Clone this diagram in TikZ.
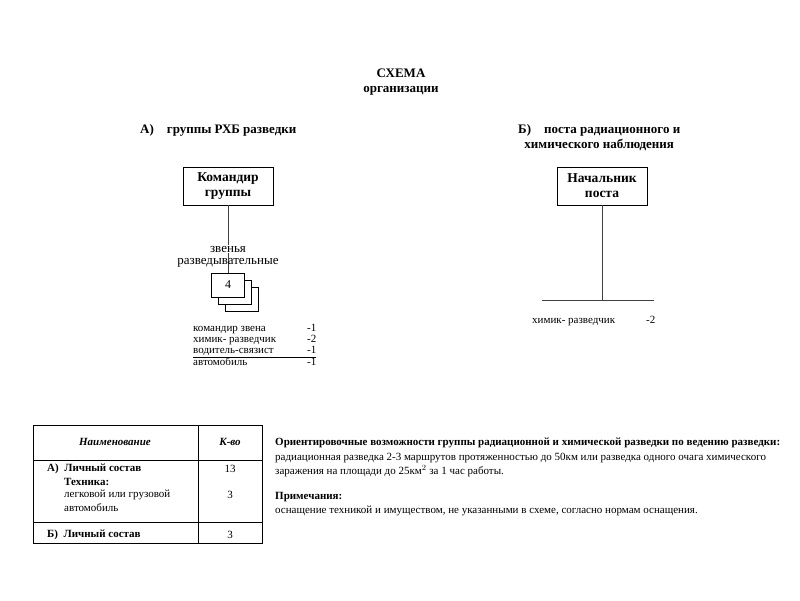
\documentclass[tikz,border=0pt]{standalone}
\usepackage{fontspec}
\setmainfont{Liberation Serif}
\usetikzlibrary{positioning}

\begin{document}
\begin{tikzpicture}[
        x=1pt, y=-1pt,
        zagolovok/.style={
            align=center,
            inner sep=0pt,
            font=\bfseries\fontsize{13}{15}\selectfont
        },
        nachalnik/.style={
            rectangle,
            draw=black,
            line width=0.9pt,
            align=center,
            minimum width=90pt,
            minimum height=38pt,
            inner sep=2pt,
            fill=white,
            font=\bfseries\fontsize{13.5}{15}\selectfont
        },
        zveno/.style={
            rectangle,
            draw=black,
            line width=0.9pt,
            minimum width=33pt,
            minimum height=24pt,
            fill=white,
            font=\fontsize{12}{13}\selectfont
        },
        svyaz/.style={
            line width=0.9pt,
            draw=black!75
        },
        podpis/.style={
            inner sep=1pt,
            font=\fontsize{13}{14}\selectfont
        },
        spisok/.style={
            anchor=north west,
            inner sep=0pt,
            font=\fontsize{11}{11}\selectfont
        },
        tablica/.style={
            line width=1pt
        },
        yacheyka/.style={
            anchor=west,
            inner sep=0pt,
            font=\fontsize{11}{12}\selectfont
        },
        tekst/.style={
            anchor=west,
            inner sep=0pt,
            align=left,
            font=\fontsize{11}{14.5}\selectfont
        }
    ]

    \useasboundingbox (0,0) rectangle (800,600);

    \node[zagolovok] (shema) at (401,82) {СХЕМА\\организации};

    \node[zagolovok, anchor=west] (gruppa) at (140,130) {А)\quad группы РХБ разведки};
    \node[zagolovok, anchor=west] (post) at (518,137.5) {Б)\quad поста радиационного и\\
        химического наблюдения};

    % группа РХБ разведки
    \node[nachalnik] (komandir) at (228,186) {Командир\\группы};

    \node[zveno] (zveno3) at (242,299) {};
    \node[zveno] (zveno2) at (235,292) {};
    \node[zveno] (zveno1) at (228,285) {4};

    \draw[svyaz] (komandir.south) -- (zveno1.north);

    \node[podpis, fill=white] (zvenya) at (228,249) {звенья};
    \node[podpis] (razved) at (228,263) {разведывательные};

    \node[spisok] (sostav) at (193,324) {%
        \begin{tabular}{@{}p{114pt}@{}r@{}}
            командир звена & -1\\
            химик- разведчик & -2\\
            водитель-связист & -1\\ \hline
            автомобиль & -1
        \end{tabular}};

    % пост радиационного и химического наблюдения
    \node[nachalnik] (nachpost) at (602,186) {Начальник\\поста};
    \coordinate (uzel) at (602,300);
    \coordinate (liniyaL) at (542,300);
    \coordinate (liniyaR) at (654,300);

    \draw[svyaz] (nachpost.south) -- (uzel);
    \draw[svyaz] (liniyaL) -- (liniyaR);

    \node[spisok] (sostavpost) at (532,316) {%
        \begin{tabular}{@{}p{114pt}@{}r@{}}
            химик- разведчик & -2
        \end{tabular}};

    % таблица
    \draw[tablica] (33,425) rectangle (262,543);
    \draw[tablica] (198,425) -- (198,543);
    \draw[tablica] (33,460) -- (262,460);
    \draw[tablica] (33,522) -- (262,522);

    \node[yacheyka, anchor=center, font=\bfseries\itshape\fontsize{11}{12}\selectfont] (naim) at (115,442) {Наименование};
    \node[yacheyka, anchor=center, font=\bfseries\itshape\fontsize{11}{12}\selectfont] (kolvo) at (230,442) {К-во};

    \node[yacheyka, font=\bfseries\fontsize{11}{12}\selectfont] (lsA) at (47,469) {А)\enspace Личный состав};
    \node[yacheyka, font=\bfseries\fontsize{11}{12}\selectfont] (tehnika) at (64,482) {Техника:};
    \node[yacheyka] (avto1) at (64,495) {легковой или грузовой};
    \node[yacheyka] (avto2) at (64,508) {автомобиль};
    \node[yacheyka, font=\bfseries\fontsize{11}{12}\selectfont] (lsB) at (47,535) {Б)\enspace Личный состав};

    \node[yacheyka, anchor=center] (chislo1) at (230,469) {13};
    \node[yacheyka, anchor=center] (chislo2) at (230,495) {3};
    \node[yacheyka, anchor=center] (chislo3) at (230,535) {3};

    % возможности группы
    \node[tekst] (vozm) at (275,457.5) {%
        \textbf{Ориентировочные возможности группы радиационной и химической разведки по ведению разведки:}\\
        радиационная разведка 2-3 маршрутов протяженностью до 50км или разведка одного очага химического\\
        заражения на площади до 25км$^2$ за 1 час работы.};

    \node[tekst] (primech) at (275,504) {%
        \textbf{Примечания:}\\
        оснащение техникой и имуществом, не указанными в схеме, согласно нормам оснащения.};

\end{tikzpicture}
\end{document}
